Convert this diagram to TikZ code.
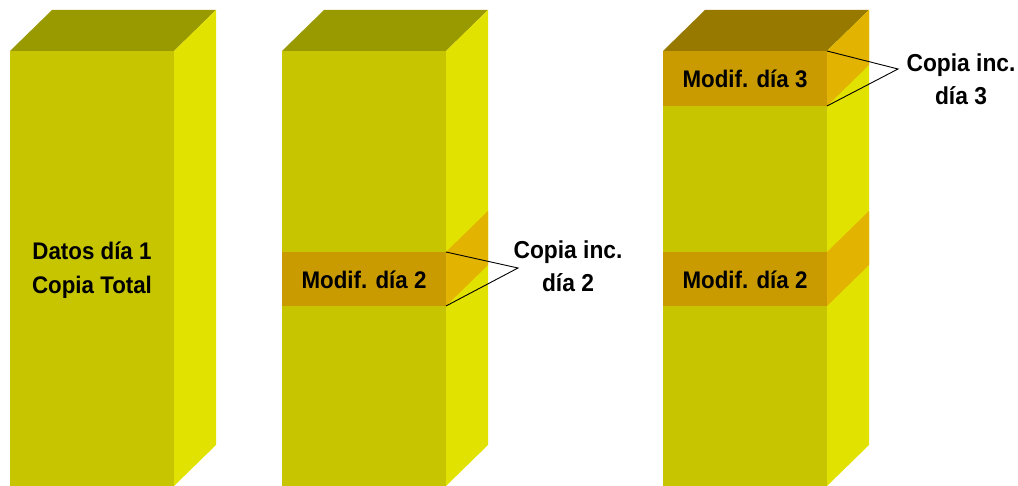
\documentclass[tikz,border=0pt]{standalone}
\usepackage{fontspec}
\setmainfont{Liberation Sans}
\newfontfamily\lblfont[FakeStretch=0.93]{Liberation Sans}
\definecolor{frontc}{RGB}{198,197,0}
\definecolor{sidec}{RGB}{226,226,0}
\definecolor{topc}{RGB}{153,153,0}
\definecolor{bandf}{RGB}{201,155,0}
\definecolor{bands}{RGB}{226,179,0}
\definecolor{topb}{RGB}{152,121,0}
\newcommand{\mycolumn}[3]{% name, x0, top colour
  \path (#2,51) coordinate (#1-ftl) ++(164,0) coordinate (#1-ftr)
        ++(42,-41) coordinate (#1-btr) ++(-164,0) coordinate (#1-btl);
  \path (#1-ftr) ++(0,435) coordinate (#1-fbr);
  \path (#1-btr) ++(0,435) coordinate (#1-bbr);
  \fill[frontc] (#1-ftl) rectangle (#1-fbr);
  \fill[#3] (#1-ftl) -- (#1-ftr) -- (#1-btr) -- (#1-btl) -- cycle;
  \fill[sidec] (#1-ftr) -- (#1-btr) -- (#1-bbr) -- (#1-fbr) -- cycle;
}
\newcommand{\myband}[4]{% name, x0, ytop, ybot
  \path (#2,#3) coordinate (#1-tl) ++(164,0) coordinate (#1-tr)
        ++(42,-41) coordinate (#1-btr);
  \path (#2,#4) coordinate (#1-bl) ++(164,0) coordinate (#1-br)
        ++(42,-41) coordinate (#1-bbr);
  \fill[bandf] (#1-tl) rectangle (#1-br);
  \fill[bands] (#1-tr) -- (#1-btr) -- (#1-bbr) -- (#1-br) -- cycle;
}
\tikzset{
  intext/.style={font=\lblfont\fontsize{24}{34}\selectfont\bfseries, align=center, inner sep=0pt},
  lbltext/.style={font=\lblfont\fontsize{24.5}{33}\selectfont\bfseries, align=center, inner sep=0pt},
  callout/.style={draw=black, line width=0.9pt}
}
\begin{document}
\begin{tikzpicture}[x=1pt,y=-1pt]
\useasboundingbox (0,0) rectangle (1018,486);
% column 1
\mycolumn{c1}{10}{topc}
% column 2
\mycolumn{c2}{282}{topc}
\myband{b2}{282}{252}{306}
% column 3
\mycolumn{c3}{663}{topb}
\myband{b3a}{663}{51}{106}
\myband{b3b}{663}{252}{306}

\node[intext] (t1) at (92,270) {Datos día 1\\Copia Total};
\node[intext] (t2) at (364,280) {Modif. día 2};
\node[intext] (t3) at (745,79) {Modif. día 3};
\node[intext] (t4) at (745,280) {Modif. día 2};

\node[lbltext] (l2) at (568,266) {Copia inc.\\día 2};
\node[lbltext] (l3) at (961,79) {Copia inc.\\día 3};

\coordinate (a2) at (518,268);
\coordinate (a3) at (898,69);
\draw[callout] (b2-tr) -- (a2) -- (b2-br);
\draw[callout] (b3a-tr) -- (a3) -- (b3a-br);
\end{tikzpicture}
\end{document}
